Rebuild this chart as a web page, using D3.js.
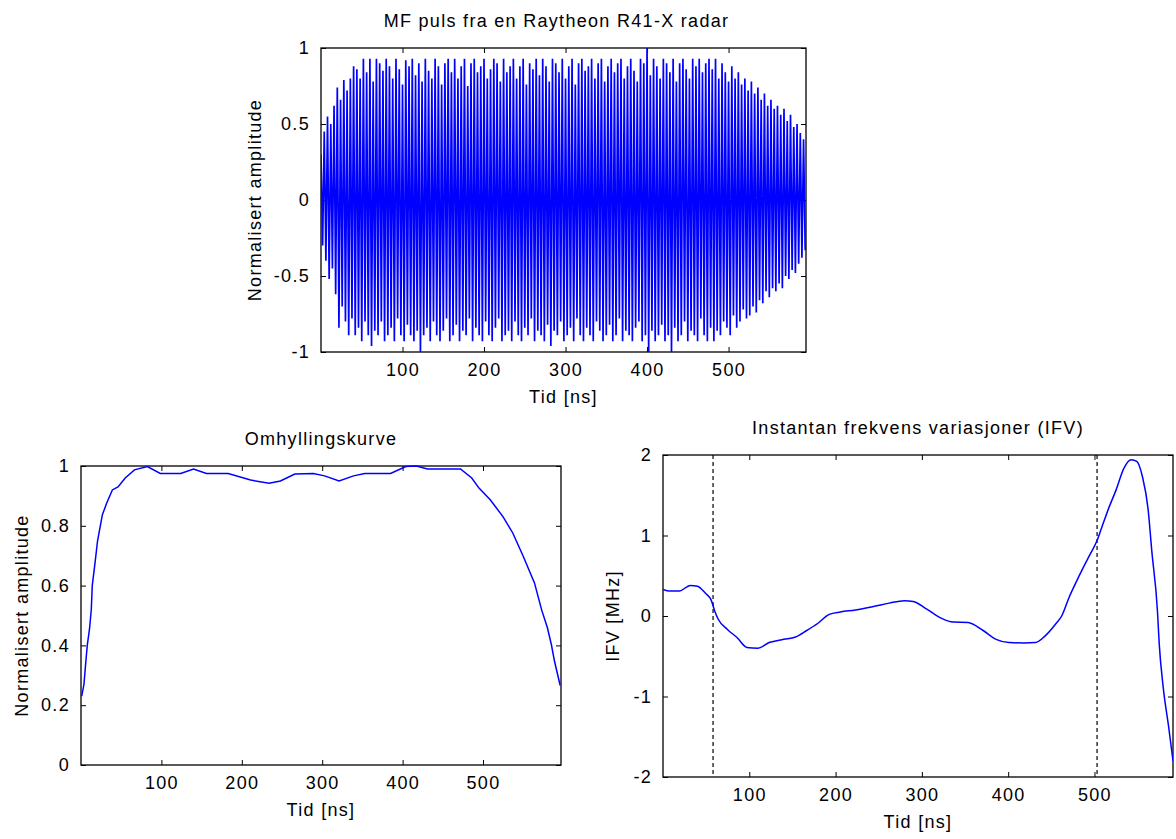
<!DOCTYPE html>
<html lang="no">
<head>
    <meta charset="UTF-8">
    <script src="https://d3js.org/d3.v7.min.js"></script>
    <title>Raytheon R41-X</title>
    <style>
        body { margin: 0; background: #fff; }
        text { font-family: 'Liberation Sans', Arial, sans-serif; font-size: 18px; letter-spacing: 1.3px; fill: #000; }
        .tick line { stroke: #000; }
        .tick text { font-size: 18px; }
    </style>
</head>
<body>
<svg width="1176" height="839"></svg>
<script>
    // top panel: MF pulse, upper peaks (t = 0,4,8..) and lower peaks (t = 2,6,10..)
    const pulseHi = [
        0.30, 0.45, 0.55, 0.50, 0.62, 0.74, 0.66, 0.79, 0.72, 0.80,
        0.88, 0.86, 0.80, 0.93, 0.84, 0.93, 0.78, 0.93, 0.90, 0.85,
        0.93, 0.88, 0.80, 0.93, 0.86, 0.76, 0.92, 0.88, 0.93, 0.82,
        0.90, 0.78, 0.93, 0.85, 0.80, 0.93, 0.88, 0.76, 0.90, 0.93,
        0.84, 0.93, 0.80, 0.88, 0.93, 0.75, 0.90, 0.93, 0.84, 0.88,
        0.93, 0.80, 0.86, 0.93, 0.90, 0.78, 0.93, 0.84, 0.88, 0.93,
        0.80, 0.88, 0.93, 0.76, 0.90, 0.86, 0.93, 0.82, 0.93, 0.88,
        0.78, 0.93, 0.90, 0.84, 0.93, 0.80, 0.88, 0.93, 0.76, 0.90,
        0.93, 0.85, 0.88, 0.93, 0.80, 0.90, 0.93, 0.78, 0.88, 0.93,
        0.84, 0.90, 0.93, 0.80, 0.88, 0.93, 0.85, 0.78, 0.93, 0.90,
        1.00, 0.82, 0.93, 0.88, 0.80, 0.93, 0.90, 0.84, 0.93, 0.78,
        0.90, 0.93, 0.86, 0.80, 0.93, 0.88, 0.93, 0.84, 0.90, 0.93,
        0.86, 0.93, 0.80, 0.90, 0.84, 0.78, 0.88, 0.80, 0.84, 0.76,
        0.80, 0.72, 0.78, 0.70, 0.74, 0.66, 0.70, 0.62, 0.66, 0.60,
        0.62, 0.56, 0.60, 0.52, 0.56, 0.48, 0.50, 0.44, 0.40
    ];
    const pulseLo = [
        -0.30, -0.40, -0.52, -0.45, -0.62, -0.84, -0.70, -0.80, -0.89, -0.78,
        -0.89, -0.84, -0.93, -0.80, -0.89, -0.96, -0.86, -0.89, -0.80, -0.93,
        -0.89, -0.84, -0.93, -0.78, -0.89, -0.93, -0.82, -0.89, -0.93, -0.86,
        -1.00, -0.89, -0.84, -0.93, -0.80, -0.89, -0.93, -0.86, -0.78, -0.93,
        -0.89, -0.82, -0.93, -0.86, -0.89, -0.78, -0.93, -0.84, -0.89, -0.93,
        -0.80, -0.89, -0.93, -0.84, -0.78, -0.93, -0.89, -0.86, -0.93, -0.80,
        -0.89, -0.93, -0.84, -0.89, -0.78, -0.93, -0.86, -0.89, -0.93, -0.82,
        -0.96, -0.86, -0.89, -0.80, -0.93, -0.89, -0.84, -0.93, -0.78, -0.89,
        -0.93, -0.84, -0.89, -0.93, -0.80, -0.86, -0.93, -0.89, -0.82, -0.93,
        -0.89, -0.78, -0.93, -0.86, -0.89, -0.93, -0.84, -0.80, -0.93, -0.89,
        -1.00, -0.86, -0.93, -0.89, -0.82, -0.93, -0.89, -1.00, -0.84, -0.93,
        -0.89, -0.80, -0.93, -0.86, -0.89, -0.93, -0.78, -0.89, -0.93, -0.84,
        -0.93, -0.86, -0.89, -0.80, -0.84, -0.89, -0.76, -0.84, -0.80, -0.72,
        -0.78, -0.76, -0.70, -0.74, -0.66, -0.68, -0.60, -0.64, -0.58, -0.60,
        -0.55, -0.58, -0.50, -0.52, -0.46, -0.48, -0.42, -0.38, -0.33
    ];

    // bottom left: envelope
    const envT = [0.9, 3.7, 5.5, 7.8, 10.6, 12.8, 14, 17.4, 20.6, 26.6, 32, 39, 46, 55, 66.5, 82.6,
        98.6, 124, 140, 156, 183, 211, 234, 248, 266, 289, 303, 321, 339, 353, 385, 404, 417,
        431, 454, 472, 486, 495, 509, 525, 537, 550, 564, 573, 580, 585, 589, 596];
    const envA = [0.23, 0.27, 0.33, 0.40, 0.455, 0.52, 0.60, 0.675, 0.75, 0.837, 0.876, 0.92, 0.93, 0.96, 0.987, 0.998,
        0.975, 0.975, 0.99, 0.975, 0.975, 0.953, 0.942, 0.95, 0.973, 0.975, 0.967, 0.95, 0.967, 0.975, 0.975, 0.998, 1.0,
        0.99, 0.99, 0.99, 0.96, 0.926, 0.887, 0.83, 0.776, 0.698, 0.609, 0.518, 0.46, 0.403, 0.346, 0.266];

    // bottom right: instantaneous frequency variation
    const ifvT = [0, 7.8, 18.7, 31.7, 40, 49, 55.7, 60, 64, 75, 86, 97, 110, 123, 140, 153.5, 166.5, 179.6,
        192.6, 205.7, 223, 244.8, 262, 279.6, 290, 305.7, 323, 336, 353.5, 371, 386, 401, 418.7, 431.7,
        442.6, 455.7, 462, 470.9, 479.6, 492.6, 503.5, 507.8, 516.5, 525.2, 533.9, 542.6, 549, 555.6,
        562, 566.5, 573, 575, 579.6, 586, 591];
    const ifvF = [0.33, 0.31, 0.31, 0.38, 0.37, 0.285, 0.20, 0.06, -0.04, -0.17, -0.27, -0.39, -0.40, -0.33, -0.29, -0.26, -0.18, -0.09,
        0.02, 0.05, 0.075, 0.12, 0.16, 0.19, 0.18, 0.085, -0.03, -0.075, -0.08, -0.18, -0.29, -0.33, -0.335, -0.33,
        -0.25, -0.09, 0.0, 0.24, 0.44, 0.72, 0.95, 1.08, 1.34, 1.57, 1.83, 1.94, 1.92, 1.73,
        1.34, 0.80, 0.06, -0.34, -0.88, -1.38, -1.8];
    const ifvMarks = [58, 503];

    const xTicks = [100, 200, 300, 400, 500];
    const yTicksPulse = [-1, -0.5, 0, 0.5, 1];
    const yTicksEnv = [0, 0.2, 0.4, 0.6, 0.8, 1];
    const yTicksIfv = [-2, -1, 0, 1, 2];

    const svg = d3.select("svg");

    function panel(o) {
        const x = d3.scaleLinear().domain(o.xDomain).range([o.left, o.right]);
        const y = d3.scaleLinear().domain(o.yDomain).range([o.bottom, o.top]);
        const g = svg.append("g");
        const fmt = d => String(d);

        g.append("g").attr("transform", `translate(0,${o.bottom})`)
            .call(d3.axisBottom(x).tickValues(xTicks).tickSize(-5).tickPadding(11).tickFormat(fmt));
        g.append("g").attr("transform", `translate(0,${o.top})`)
            .call(d3.axisTop(x).tickValues(xTicks).tickSize(-5).tickFormat(""));
        g.append("g").attr("transform", `translate(${o.left},0)`)
            .call(d3.axisLeft(y).tickValues(o.yTicks).tickSize(-5).tickPadding(11).tickFormat(fmt));
        g.append("g").attr("transform", `translate(${o.right},0)`)
            .call(d3.axisRight(y).tickValues(o.yTicks).tickSize(-5).tickFormat(""));
        g.selectAll(".domain").remove();
        g.selectAll(".tick text").attr("fill", "#000")
            .style("font-family", "'Liberation Sans', Arial, sans-serif")
            .style("letter-spacing", "1.3px");

        g.append("rect")
            .attr("x", o.left).attr("y", o.top)
            .attr("width", o.right - o.left).attr("height", o.bottom - o.top)
            .attr("fill", "none").attr("stroke", "#000").attr("stroke-width", 1.3);

        g.append("text").attr("x", (o.left + o.right) / 2 - o.titleShift).attr("y", o.top - 21)
            .attr("text-anchor", "middle").text(o.title);
        g.append("text").attr("x", (o.left + o.right) / 2).attr("y", o.bottom + 51)
            .attr("text-anchor", "middle").text("Tid [ns]");
        g.append("text")
            .attr("transform", `translate(${o.left - o.ylabOff},${(o.top + o.bottom) / 2}) rotate(-90)`)
            .attr("text-anchor", "middle").text(o.ylabel);

        const clip = "clip" + o.id;
        g.append("clipPath").attr("id", clip).append("rect")
            .attr("x", o.left).attr("y", o.top - 1)
            .attr("width", o.right - o.left).attr("height", o.bottom - o.top + 2);
        return { g, x, y, clip };
    }

    // top: pulse
    const p1 = panel({ id: 1, left: 321, right: 806, top: 48, bottom: 352,
        xDomain: [0, 595], yDomain: [-1, 1], yTicks: yTicksPulse, titleShift: 7,
        title: "MF puls fra en Raytheon R41-X radar", ylabel: "Normalisert amplitude", ylabOff: 60 });
    const pulse = [];
    pulseHi.forEach((v, i) => {
        pulse.push([i * 4, v]);
        pulse.push([i * 4 + 2, pulseLo[i]]);
    });
    p1.g.append("path").datum(pulse)
        .attr("clip-path", `url(#${p1.clip})`)
        .attr("fill", "none").attr("stroke", "#0000ff").attr("stroke-width", 1.7)
        .attr("d", d3.line().x(d => p1.x(d[0])).y(d => p1.y(d[1])));

    // bottom left: envelope
    const p2 = panel({ id: 2, left: 81, right: 561, top: 466, bottom: 765,
        xDomain: [0, 597], yDomain: [0, 1], yTicks: yTicksEnv, titleShift: 0,
        title: "Omhyllingskurve", ylabel: "Normalisert amplitude", ylabOff: 53 });
    p2.g.append("path").datum(d3.zip(envT, envA))
        .attr("clip-path", `url(#${p2.clip})`)
        .attr("fill", "none").attr("stroke", "#0000ff").attr("stroke-width", 1.5)
        .attr("d", d3.line().x(d => p2.x(d[0])).y(d => p2.y(d[1])));

    // bottom right: IFV
    const p3 = panel({ id: 3, left: 663, right: 1173, top: 455, bottom: 777,
        xDomain: [0, 591], yDomain: [-2, 2], yTicks: yTicksIfv, titleShift: 0,
        title: "Instantan frekvens variasjoner (IFV)", ylabel: "IFV [MHz]", ylabOff: 44 });
    p3.g.selectAll("line.mark").data(ifvMarks).enter().append("line")
        .attr("class", "mark")
        .attr("x1", d => p3.x(d)).attr("x2", d => p3.x(d))
        .attr("y1", p3.y(2)).attr("y2", p3.y(-2))
        .attr("stroke", "#000").attr("stroke-width", 1.2).attr("stroke-dasharray", "4,3");
    p3.g.append("path").datum(d3.zip(ifvT, ifvF))
        .attr("clip-path", `url(#${p3.clip})`)
        .attr("fill", "none").attr("stroke", "#0000ff").attr("stroke-width", 1.5)
        .attr("d", d3.line().curve(d3.curveMonotoneX).x(d => p3.x(d[0])).y(d => p3.y(d[1])));
</script>
</body>
</html>
